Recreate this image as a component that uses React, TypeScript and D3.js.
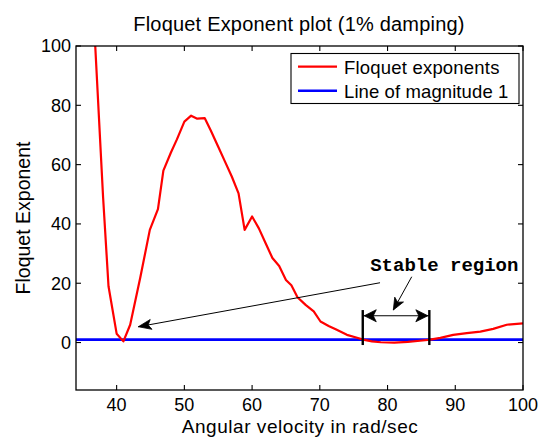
import React from "react";
import * as d3 from "d3";

// ---------- data ----------
const velocity = [36.5, 38.0, 38.8, 40.0, 41.0, 42.0, 43.5, 44.9, 46.1, 46.9, 48.0, 48.9, 50.0, 51.0, 51.9, 53.0, 53.9, 55.0, 56.0, 57.0, 58.0, 58.9, 60.0, 61.0, 62.0, 63.0, 64.0, 65.0, 65.8, 66.7, 67.9, 69.1, 70.1, 71.3, 72.5, 74.0, 75.5, 76.4, 77.7, 79.0, 81.0, 83.0, 84.8, 86.3, 87.8, 89.7, 91.7, 93.7, 95.6, 97.6, 100.0];
const floquet = [115, 49, 19, 3, 0.4, 6, 22, 38, 45, 58, 64, 68.5, 74.5, 76.5, 75.5, 75.7, 71.5, 66, 61, 56, 50.3, 38, 42.5, 38.5, 33.5, 28.5, 25.8, 21.1, 19.3, 15.3, 12.7, 10.5, 7.1, 5.6, 4.3, 2.6, 1.6, 1.0, 0.4, 0.1, 0.0, 0.2, 0.6, 1.0, 1.6, 2.6, 3.2, 3.7, 4.6, 6.0, 6.5];
const unitLevel = 1;

const xTicks = [40, 50, 60, 70, 80, 90, 100];
const yTicks = [0, 20, 40, 60, 80, 100];
const xDomain = [34, 100];
const yDomain = [-16, 100];

const titleText = "Floquet Exponent plot (1% damping)";
const xLabelText = "Angular velocity in rad/sec";
const yLabelText = "Floquet Exponent";
const legendLabels = ["Floquet exponents", "Line of magnitude 1"];
const annotationText = "Stable region";

// annotation anchors in data coordinates
const arrowA = { from: [78.89, 20.17], to: [43.2, 5.33] };
const arrowB = { from: [83.57, 22.19], to: [80.85, 10.96] };
const stableBounds = [76.34, 86.17];
const stableArrowY = 9.04;
const stableBarY = [-0.84, 10.96];
const annotationPos = [77.44, 24.2];

// ---------- layout ----------
const W = 542;
const H = 437;
const L = 76, R = 523, T = 46, B = 390;
const FONT = "'Liberation Sans', Arial, Helvetica, sans-serif";

function headPath(tx: number, ty: number, fx: number, fy: number, len: number, half: number, notch: number) {
  const dx = tx - fx, dy = ty - fy;
  const d = Math.hypot(dx, dy);
  const ux = dx / d, uy = dy / d;
  const px = -uy, py = ux;
  const bx = tx - ux * len, by = ty - uy * len;
  const nx = tx - ux * (len - notch), ny = ty - uy * (len - notch);
  return `M${tx},${ty}L${bx + px * half},${by + py * half}L${nx},${ny}L${bx - px * half},${by - py * half}Z`;
}

export default function App() {
  const x = d3.scaleLinear().domain(xDomain).range([L, R]);
  const y = d3.scaleLinear().domain(yDomain).range([B, T]);
  const pts = velocity.map((v, i) => [v, floquet[i]] as [number, number]);
  const line = d3.line<[number, number]>().x(d => x(d[0])).y(d => y(d[1]));
  const tick = 5;

  const aFrom = [x(arrowA.from[0]), y(arrowA.from[1])];
  const aTo = [x(arrowA.to[0]), y(arrowA.to[1])];
  const bFrom = [x(arrowB.from[0]), y(arrowB.from[1])];
  const bTo = [x(arrowB.to[0]), y(arrowB.to[1])];
  const s0 = x(stableBounds[0]), s1 = x(stableBounds[1]);
  const sy = y(stableArrowY);

  return (
    <svg width={W} height={H} style={{ position: "absolute", left: 0, top: 0, background: "#fff" }} fontFamily={FONT}>
      <defs>
        <clipPath id="plotclip">
          <rect x={L} y={T} width={R - L} height={B - T} />
        </clipPath>
      </defs>
      <rect x={0} y={0} width={W} height={H} fill="#fff" />
      <text x={299} y={31} textAnchor="middle" fontSize={20} letterSpacing={0.2} fill="#000">{titleText}</text>

      {/* data */}
      <g clipPath="url(#plotclip)">
        <line x1={L} x2={R} y1={y(unitLevel)} y2={y(unitLevel)} stroke="#0000ff" strokeWidth={2.6} />
        <path d={line(pts) || ""} fill="none" stroke="#ff0000" strokeWidth={2.2} strokeLinejoin="round" />
      </g>

      {/* box & ticks */}
      <rect x={L} y={T} width={R - L} height={B - T} fill="none" stroke="#000" strokeWidth={1.3} />
      {xTicks.map(t => (
        <g key={"x" + t}>
          <line x1={x(t)} x2={x(t)} y1={B} y2={B - tick} stroke="#000" strokeWidth={1.1} />
          <line x1={x(t)} x2={x(t)} y1={T} y2={T + tick} stroke="#000" strokeWidth={1.1} />
          <text x={x(t)} y={411} textAnchor="middle" fontSize={18} fill="#000">{t}</text>
        </g>
      ))}
      {yTicks.map(t => (
        <g key={"y" + t}>
          <line x1={L} x2={L + tick} y1={y(t)} y2={y(t)} stroke="#000" strokeWidth={1.1} />
          <line x1={R} x2={R - tick} y1={y(t)} y2={y(t)} stroke="#000" strokeWidth={1.1} />
          <text x={71} y={y(t)} dy="0.36em" textAnchor="end" fontSize={18} fill="#000">{t}</text>
        </g>
      ))}

      <text x={300} y={432.5} textAnchor="middle" fontSize={19} letterSpacing={0.55} fill="#000">{xLabelText}</text>
      <text transform={`translate(29.5,${(T + B) / 2}) rotate(-90)`} textAnchor="middle" fontSize={19.5} fill="#000">{yLabelText}</text>

      {/* legend */}
      <rect x={291} y={53.5} width={228} height={50} fill="#fff" stroke="#000" strokeWidth={1.1} />
      <line x1={298} x2={337} y1={66.7} y2={66.7} stroke="#ff0000" strokeWidth={2.2} />
      <line x1={298} x2={337} y1={90.7} y2={90.7} stroke="#0000ff" strokeWidth={2.6} />
      <text x={344} y={73.5} fontSize={18.5} letterSpacing={0.2} fill="#000">{legendLabels[0]}</text>
      <text x={344} y={97.5} fontSize={18.5} letterSpacing={0.1} fill="#000">{legendLabels[1]}</text>

      {/* annotations */}
      <line x1={aFrom[0]} y1={aFrom[1]} x2={aTo[0]} y2={aTo[1]} stroke="#000" strokeWidth={1} />
      <path d={headPath(aTo[0], aTo[1], aFrom[0], aFrom[1], 13, 5, 3)} fill="#000" stroke="#000" strokeWidth={0.8} strokeLinejoin="miter" />
      <line x1={bFrom[0]} y1={bFrom[1]} x2={bTo[0]} y2={bTo[1]} stroke="#000" strokeWidth={1} />
      <path d={headPath(bTo[0], bTo[1], bFrom[0], bFrom[1], 12, 5, 3)} fill="#000" stroke="#000" strokeWidth={0.8} />
      <line x1={s0} x2={s1} y1={sy} y2={sy} stroke="#000" strokeWidth={1.1} />
      <path d={headPath(s0 + 1.5, sy, s1, sy, 12, 6, 3)} fill="#000" stroke="#000" strokeWidth={0.8} />
      <path d={headPath(s1 - 1.5, sy, s0, sy, 12, 6, 3)} fill="#000" stroke="#000" strokeWidth={0.8} />
      {stableBounds.map(b => (
        <line key={"bar" + b} x1={x(b)} x2={x(b)} y1={y(stableBarY[0])} y2={y(stableBarY[1])} stroke="#000" strokeWidth={2.4} />
      ))}
      <text x={x(annotationPos[0])} y={y(annotationPos[1])} fontFamily="'Liberation Mono', 'Courier New', monospace" fontWeight="bold" fontSize={19} fill="#000">{annotationText}</text>
    </svg>
  );
}
